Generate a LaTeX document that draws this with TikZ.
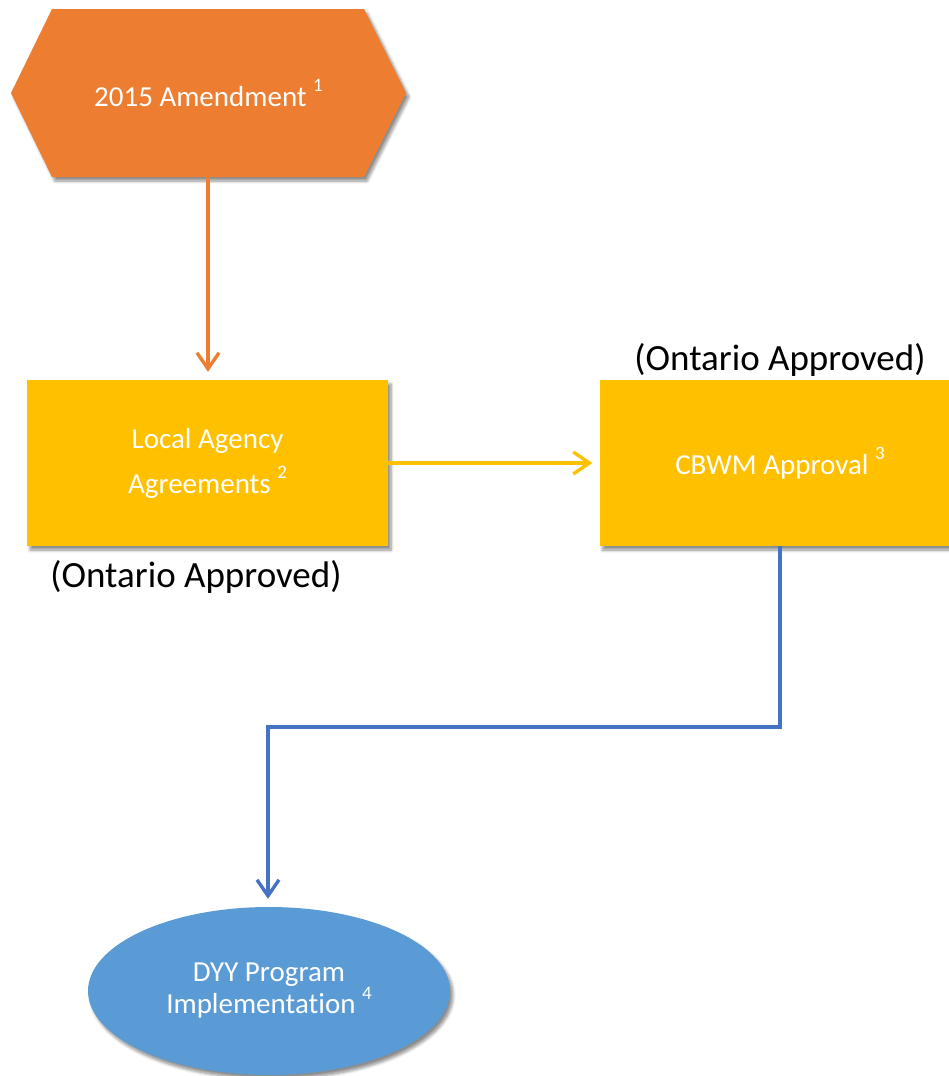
\documentclass[tikz,border=0pt]{standalone}
\usepackage{fontspec}
\setmainfont{Carlito}[Ligatures=NoCommon]
\usetikzlibrary{arrows.meta,shapes.geometric,shadows.blur}
\definecolor{corange}{HTML}{ED7D31}
\definecolor{cyellow}{HTML}{FFC000}
\definecolor{cblue}{HTML}{5B9BD5}
\definecolor{cline}{HTML}{4472C4}
\newcommand\supnum[1]{\raisebox{0.5em}{\fontsize{19}{19}\selectfont #1}}
\tikzset{
  shad/.style={blur shadow={shadow xshift=3pt, shadow yshift=-4pt, shadow blur steps=6, shadow blur radius=3pt, shadow opacity=45}},
  boxnode/.style={rectangle, fill=cyellow, minimum width=361pt, minimum height=166pt, inner sep=0pt, text=white, font=\fontsize{29}{45}\selectfont, align=center, shad},
  ovalnode/.style={ellipse, fill=cblue, minimum width=362pt, minimum height=168pt, inner sep=0pt, text=white, font=\fontsize{29}{32}\selectfont, align=center, shad},
  lbl/.style={font=\fontsize{37}{40}\selectfont, text=black, inner sep=0pt},
  conn/.style={line width=3.4pt, -{Straight Barb[length=16pt, width=22pt, line width=3.4pt]}},
}
\begin{document}
\begin{tikzpicture}[x=1pt,y=-1pt]
\useasboundingbox (0,0) rectangle (949,1076);
% hexagon
\fill[corange, shad] (52,9) -- (364,9) -- (406,93) -- (364,177) -- (52,177) -- (11,93) -- cycle;
\node[text=white, font=\fontsize{29}{34}\selectfont, inner sep=0pt] (amend) at (208.5,93) {2015 Amendment \supnum{1}};
\coordinate (amendbot) at (208,177);
% boxes
\node[boxnode] (local) at (207.5,463) {Local Agency\\Agreements \supnum{2}};
\node[boxnode] (cbwm) at (780,463) {CBWM Approval \supnum{3}};
\node[lbl] (lbl1) at (196,577) {(Ontario Approved)};
\node[lbl] (lbl2) at (780,360) {(Ontario Approved)};
% ellipse
\node[ovalnode] (dyy) at (269,991) {DYY Program\\Implementation \supnum{4}};
% connectors
\draw[conn, corange, shorten >=8pt] (amendbot) -- (amendbot |- local.north);
\draw[conn, cyellow, shorten >=7pt] (local.east) -- (cbwm.west);
\coordinate (bend1) at (780,727);
\coordinate (bend2) at (268,727);
\draw[conn, cline, shorten >=8pt] (cbwm.south) -- (bend1) -- (bend2) -- (bend2 |- dyy.north);
\end{tikzpicture}
\end{document}
